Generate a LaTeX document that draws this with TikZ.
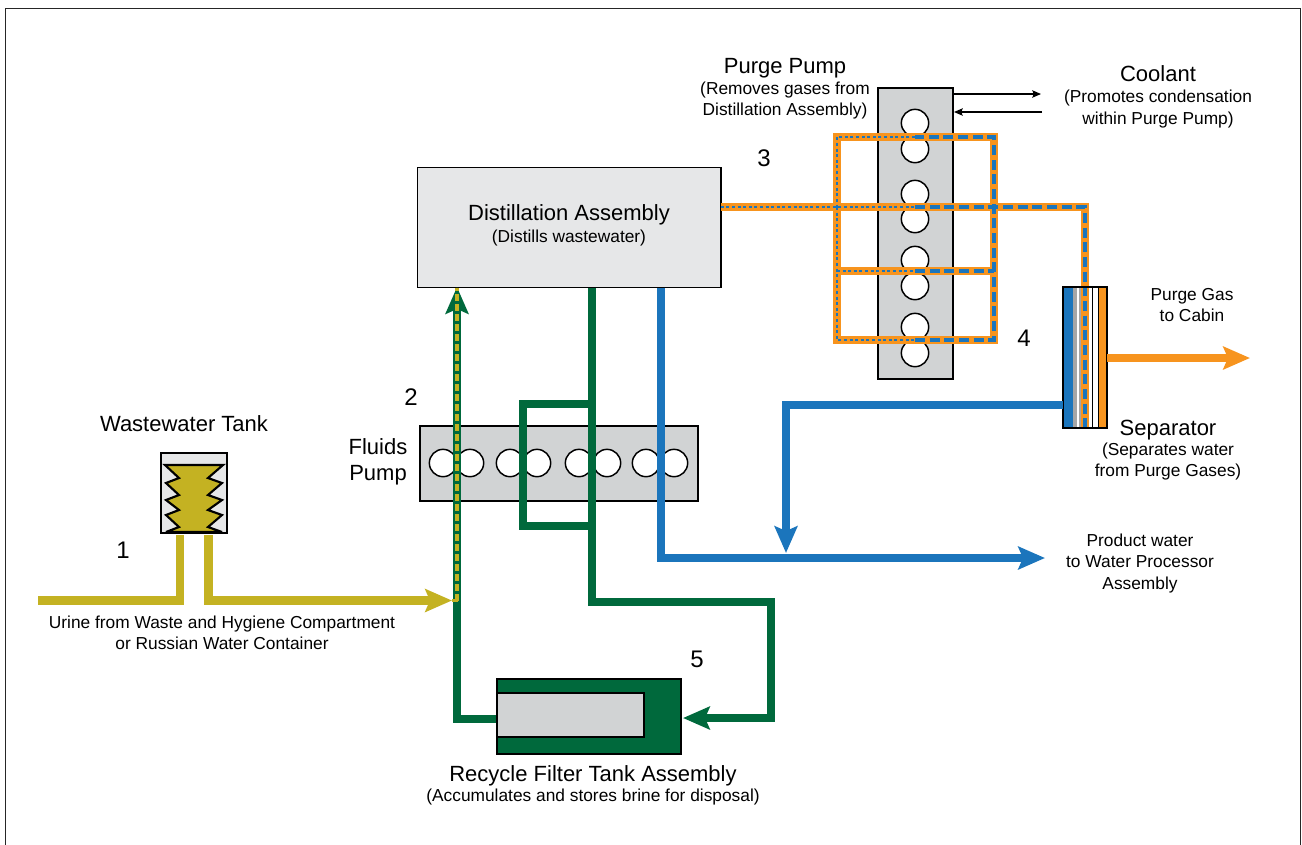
\documentclass[tikz,border=0pt]{standalone}
\usepackage{fontspec}
\setmainfont{Liberation Sans}
\usetikzlibrary{arrows.meta, positioning, calc}
\definecolor{urineyellow}{RGB}{196,178,34}
\definecolor{brinegreen}{RGB}{0,105,60}
\definecolor{waterblue}{RGB}{27,117,188}
\definecolor{gasorange}{RGB}{247,148,30}
\definecolor{panelgrey}{RGB}{209,211,212}
\definecolor{lightpanel}{RGB}{230,231,232}
\tikzset{
  x=0.75pt, y=-0.75pt,
  basebox/.style={rectangle, draw=black, line width=1.4pt, anchor=north west, inner sep=0pt, outer sep=0pt},
  pumpbox/.style={basebox, fill=panelgrey},
  bigtitle/.style={align=center, font=\fontsize{16.5}{19.5}\selectfont},
  subtitle/.style={align=center, font=\fontsize{13}{15.8}\selectfont},
  numlabel/.style={font=\fontsize{18}{20}\selectfont},
  hole/.style={circle, draw=black, fill=white, line width=1.1pt, minimum size=20.5pt, inner sep=0pt},
  pipe/.style={line width=6.4pt},
  yellowpipe/.style={pipe, color=urineyellow},
  greenpipe/.style={pipe, color=brinegreen},
  bluepipe/.style={pipe, color=waterblue},
  orangepipe/.style={line width=6.4pt, color=gasorange},
  gasdash/.style={line width=2.5pt, color=waterblue, dash pattern=on 7.5pt off 3.5pt},
  gasdot/.style={line width=1.6pt, color=waterblue, dash pattern=on 2.2pt off 2pt},
  bigtip/.style={-{Stealth[length=20pt,width=17pt,inset=3.5pt]}},
  coolant/.style={-{Stealth[length=6.5pt,width=5.5pt,inset=1pt]}, line width=0.9pt, color=black}
}
\begin{document}
\begin{tikzpicture}
  \useasboundingbox (0,0) rectangle (1302,844);
  \draw[line width=1.1pt, color=black!85] (5.5,860) -- (5.5,8.3) -- (1300.5,8.3) -- (1300.5,860);

  % boxes
  \node[pumpbox, minimum width=208.5pt, minimum height=56pt] (fluids) at (420,426) {};
  \foreach \cx/\nm in {443/a,470/b,510/c,537/d,579/e,607/f,646/g,674/h}
    \node[hole] (fh\nm) at (\cx,463) {};
  \node[pumpbox, minimum width=56pt, minimum height=218.5pt] (purge) at (878,88) {};
  \foreach \cy/\nm in {123/a,149/b,194/c,219/d,260/e,286/f,327/g,353/h}
    \node[hole] (ph\nm) at (915,\cy) {};
  \node[basebox, fill=lightpanel, minimum width=227.5pt, minimum height=90pt] (dist) at (417.5,167.5) {};

  % coordinates of the purge loop
  \coordinate (gl) at (837,137);
  \coordinate (gr) at (994,137);
  \coordinate (gm) at (837,207);
  \coordinate (gn) at (837,271);
  \coordinate (gb) at (837,340);
  \coordinate (gx) at (1085,207);
  \coordinate (gy) at (1085,428);

  % separator
  \node[basebox, fill=white, minimum width=33pt, minimum height=106pt] (sep) at (1063,287) {};
  \fill[waterblue] (1064,288) rectangle (1073,428);
  \fill[black!35] (1073,288) rectangle (1076.5,428);
  \fill[black!35] (1078.5,288) rectangle (1081,428);
  \fill[black] (1091.5,288) rectangle (1093,428);
  \fill[black] (1097.7,288) rectangle (1099.2,428);
  \fill[gasorange] (1099.2,288) rectangle (1106,428);

  % gas lines
  \draw[orangepipe, line join=miter] (gl) rectangle (gr |- gb);
  \draw[orangepipe] (gn) -- (gr |- gn);
  \draw[orangepipe] (dist.east |- gm) -- (gx) -- (gy);
  \draw[gasdot] (dist.east |- gm) -- (915,207);
  \draw[gasdash] (915,207) -- (gx) -- (gy);
  \draw[gasdot] (gm) -- (gb) -- (915,340);
  \draw[gasdash] (915,340) -- (gr |- gb) -- (gr) -- (915,137);
  \draw[gasdot] (915,137) -- (gl) -- (gm);
  \draw[gasdot] (gn) -- (915,271);
  \draw[gasdash] (915,271) -- (gr |- gn);
  \draw[line width=1.4pt] (sep.north west) rectangle (sep.south east);

  % water lines
  \node[coordinate] (prod) at (1045,558) {};
  \draw[bluepipe, bigtip] (661,0 |- dist.south) -- (661,558) -- (prod);
  \draw[bluepipe, bigtip] (sep.west |- 0,405) -- (786,405) -- (786,553);

  % brine lines
  \node[coordinate] (tankin) at (683,718) {};
  \draw[greenpipe, bigtip] (592,0 |- dist.south) -- (592,602) -- (771,602) -- (771,718) -- (tankin);
  \draw[greenpipe] (592,404) -- (523,404) -- (523,526) -- (592,526);
  \draw[greenpipe, bigtip] (497,719) -- (457,719) -- (457,287);
  \draw[urineyellow, line width=2.5pt, dash pattern=on 5pt off 2.5pt] (457,601) -- (457,288);

  % recycle tank
  \node[basebox, fill=brinegreen, minimum width=138pt, minimum height=56pt] (tank) at (497,679) {};
  \node[basebox, fill=panelgrey, minimum width=110pt, minimum height=33.5pt] (filter) at (497,692.7) {};

  % wastewater tank
  \node[basebox, fill=lightpanel, minimum width=49.5pt, minimum height=60pt] (waste) at (161,453) {};
  \filldraw[fill=urineyellow, draw=black, line width=1.6pt, line join=miter, miter limit=3]
    (165,465) -- (223,465) -- (208,478) -- (222,483) -- (208,495) -- (222,500) -- (208,510) -- (222,515) -- (208,527) -- (222,532)
    -- (166,532) -- (179,527) -- (166,515) -- (179,510) -- (166,500) -- (179,495) -- (166,483) -- (179,478) -- cycle;

  % urine lines
  \coordinate (uleft) at (38,600.5);
  \coordinate (ujoin) at (452,600.5);
  \draw[yellowpipe] (uleft) -- (180,600.5) -- (180,535);
  \draw[yellowpipe, bigtip] (208.5,535) -- (208.5,600.5) -- (ujoin);
  \draw[urineyellow, line width=2.5pt] (ujoin) -- (458,600.5);

  % purge gas
  \draw[orangepipe, bigtip] (1107,358) -- (1250,358);

  % coolant
  \draw[coolant] (953,94) -- (1041,94);
  \draw[coolant] (1042,112) -- (954,112);

  % labels
  \node[bigtitle] (disttitle) at (569,215) {Distillation Assembly};
  \node[subtitle] (distsub) at (569,238) {(Distills wastewater)};
  \node[bigtitle] (tanktitle) at (184,424) {Wastewater Tank};
  \node[bigtitle] (fluidstitle) at (378,462) {Fluids\\Pump};
  \node[bigtitle] (purgetitle) at (785,68) {Purge Pump};
  \node[subtitle] (purgesub) at (785,100.5) {(Removes gases from\\Distillation Assembly)};
  \node[bigtitle] (cooltitle) at (1158,74) {Coolant};
  \node[subtitle] (coolsub) at (1158,109) {(Promotes condensation\\within Purge Pump)};
  \node[subtitle] (gastitle) at (1192,305) {Purge Gas\\to Cabin};
  \node[bigtitle] (septitle) at (1168,430) {Separator};
  \node[subtitle] (sepsub) at (1168,461.5) {(Separates water\\from Purge Gases)};
  \node[subtitle] (prodtitle) at (1140,563.5) {Product water\\to Water Processor\\Assembly};
  \node[subtitle] (urinetitle) at (222,633) {Urine from Waste and Hygiene Compartment\\or Russian Water Container};
  \node[bigtitle] (tanklabel) at (593,776) {Recycle Filter Tank Assembly};
  \node[subtitle] (tanksub) at (593,797) {(Accumulates and stores brine for disposal)};

  % step numbers
  \node[numlabel] (n1) at (123,550) {1};
  \node[numlabel] (n2) at (411,397) {2};
  \node[numlabel] (n3) at (764,158) {3};
  \node[numlabel] (n4) at (1024,338) {4};
  \node[numlabel] (n5) at (697,659) {5};
\end{tikzpicture}
\end{document}
